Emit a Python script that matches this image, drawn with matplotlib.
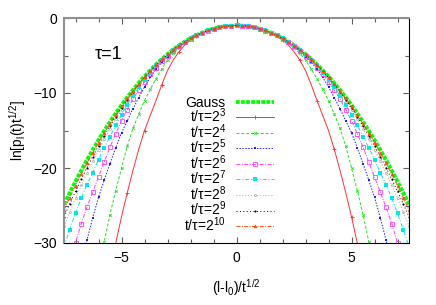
import numpy as np
import matplotlib
matplotlib.use("Agg")
import matplotlib.pyplot as plt
from matplotlib.ticker import MultipleLocator

plt.rcParams['font.family'] = ['Liberation Sans', 'DejaVu Sans']
plt.rcParams['mathtext.default'] = 'regular'
plt.rcParams['font.size'] = 10

# right half of each curve (curves are symmetric about x = 0)
x_half = [0.0, 0.25, 0.5, 0.75, 1.0, 1.25, 1.5, 1.75, 2.0, 2.25, 2.5, 2.75,
          3.0, 3.25, 3.5, 3.75, 4.0, 4.25, 4.5, 4.75, 5.0, 5.25, 5.5, 5.75,
          6.0, 6.25, 6.5, 6.75, 7.0, 7.25, 7.5]

gauss = [-0.99, -1.02, -1.10, -1.23, -1.41, -1.65, -1.94, -2.29, -2.69, -3.14,
         -3.64, -4.20, -4.81, -5.47, -6.18, -6.95, -7.77, -8.65, -9.58, -10.56,
         -11.59, -12.68, -13.82, -15.01, -16.25, -17.55, -18.90, -20.31, -21.77,
         -23.28, -24.84]

t2_3 = [-0.99, -1.02, -1.11, -1.25, -1.45, -1.72, -2.05, -2.45, -2.92, -3.6,
        -4.5, -5.6, -7.0, -8.9, -11.0, -13.0, -15.0, -17.5, -20.3, -23.3,
        -26.5, -30.0, -33.5]
t2_4 = [-0.99, -1.02, -1.11, -1.24, -1.44, -1.70, -2.02, -2.40, -2.84, -3.36,
        -3.98, -4.72, -5.6, -6.8, -8.1, -9.5, -11.0, -12.8, -14.7, -17.1,
        -20.0, -23.0, -26.2, -29.8, -33.5]
t2_5 = [-0.99, -1.02, -1.10, -1.24, -1.43, -1.68, -1.99, -2.36, -2.79, -3.28,
        -3.84, -4.46, -5.15, -5.92, -6.8, -7.9, -9.2, -10.6, -12.1, -13.7,
        -15.3, -17.3, -19.4, -21.6, -23.9, -26.6, -29.6, -32.8]
t2_6 = [-0.99, -1.02, -1.10, -1.23, -1.42, -1.67, -1.97, -2.33, -2.75, -3.23,
        -3.77, -4.37, -5.04, -5.78, -6.6, -7.5, -8.5, -9.6, -10.8, -12.2,
        -13.7, -15.4, -17.2, -19.2, -21.2, -23.2, -25.2, -27.4, -30.0, -32.6]
t2_7 = [-0.99, -1.02, -1.10, -1.23, -1.41, -1.66, -1.96, -2.32, -2.73, -3.20,
        -3.72, -4.30, -4.94, -5.64, -6.42, -7.28, -8.2, -9.2, -10.3, -11.55,
        -12.9, -14.3, -15.8, -17.3, -18.9, -20.6, -22.2, -24.0, -26.0, -28.2,
        -30.5]
t2_8 = [-0.99, -1.02, -1.10, -1.23, -1.41, -1.65, -1.95, -2.31, -2.72, -3.18,
        -3.70, -4.28, -4.91, -5.60, -6.35, -7.17, -8.05, -9.00, -10.01, -11.09,
        -12.24, -13.46, -14.75, -16.11, -17.55, -19.06, -20.65, -22.31, -24.05,
        -25.87, -27.77]
t2_9 = [-0.99, -1.02, -1.10, -1.23, -1.41, -1.65, -1.95, -2.30, -2.71, -3.17,
        -3.68, -4.25, -4.87, -5.55, -6.28, -7.08, -7.93, -8.85, -9.83, -10.87,
        -11.98, -13.15, -14.38, -15.68, -17.05, -18.47, -19.95, -21.50, -23.10,
        -24.78, -26.50]
t2_10 = [-0.99, -1.02, -1.10, -1.23, -1.41, -1.65, -1.95, -2.30, -2.70, -3.16,
         -3.67, -4.23, -4.85, -5.52, -6.24, -7.02, -7.86, -8.76, -9.71, -10.71,
         -11.78, -12.90, -14.08, -15.31, -16.60, -17.95, -19.36, -20.83, -22.36,
         -23.95, -25.60]

series = [t2_3, t2_4, t2_5, t2_6, t2_7, t2_8, t2_9, t2_10]
labels = ['t/τ=2$^{%d}$' % k for k in range(3, 11)]

styles = [
    dict(color='#ff3030', ls='-', marker='+', ms=3, mew=0.6, markevery=3),
    dict(color='#20e020', ls=(0, (3, 2)), marker='x', ms=1.8, mew=0.6),
    dict(color='#2020ff', ls=(0, (1.5, 1.5)), marker='s', ms=1.8, mew=0),
    dict(color='#ff40ff', ls=(0, (4, 1.5, 1, 1.5)), marker='s', ms=2.6,
         mfc='none', mew=0.6),
    dict(color='#00e8e8', ls=(0, (4, 2, 1, 2)), marker='s', ms=2.3, mew=0),
    dict(color='#a8a8a8', ls=(0, (1, 2)), marker='o', ms=1.5, mfc='none', mew=0.5),
    dict(color='#000000', ls=(0, (1, 2.5)), marker='o', ms=1.5, mew=0),
    dict(color='#ff4a10', ls=(0, (4, 1.5, 1, 1.5)), marker='^', ms=2.0, mew=0.5),
]


def mirror(x, y):
    x = np.asarray(x[:len(y)])
    y = np.asarray(y)
    return (np.concatenate([-x[:0:-1], x]), np.concatenate([y[:0:-1], y]))


fig = plt.figure(figsize=(4.36, 3.05), dpi=100)
ax = fig.add_axes([64 / 436, 62 / 305, 345 / 436, 225 / 305])

gx, gy = mirror(x_half, gauss)
ax.plot(gx, gy, color='#00ff00', lw=2.7, ls=(0, (1, 0.35)),
        dash_capstyle='butt', label='Gauss')

for ys, lab, st in zip(series, labels, styles):
    sx, sy = mirror(x_half, ys)
    st = dict(st)
    color = st.pop('color')
    ls = st.pop('ls')
    ax.plot(sx, sy, color=color, ls=ls, lw=0.7, label=lab, **st)

ax.set_xlim(-7.5, 7.5)
ax.set_ylim(-30, 0)
ax.xaxis.set_major_locator(MultipleLocator(5))
ax.xaxis.set_minor_locator(MultipleLocator(1))
ax.yaxis.set_major_locator(MultipleLocator(10))
ax.yaxis.set_minor_locator(MultipleLocator(5))
ax.tick_params(which='both', direction='in', top=True, right=True,
               color='#606060', labelsize=10)
ax.tick_params(which='major', length=4, width=0.8)
ax.tick_params(which='minor', length=3, width=0.8)
ax.tick_params(axis='x', pad=6)
ax.tick_params(axis='y', pad=5)

for side in ['left', 'top']:
    ax.spines[side].set_color('#909090')
    ax.spines[side].set_linewidth(1.5)
for side in ['right', 'bottom']:
    ax.spines[side].set_color('black')
    ax.spines[side].set_linewidth(0.8)

ax.set_xlabel('(l-l$_0$)/t$^{1/2}$', labelpad=8.5)
ax.set_ylabel('ln[p$_l$(t)t$^{1/2}$]', labelpad=4)

ax.text(-6.15, -4.9, 'τ=1', fontsize=13, va='center', ha='left')

leg = ax.legend(loc='upper right', bbox_to_anchor=(0.61, 0.655),
                markerfirst=False, frameon=False, handlelength=2.8,
                handletextpad=0.7, labelspacing=-0.22, borderaxespad=0,
                borderpad=0, fontsize=10)

fig.savefig('out.png', dpi=100)
